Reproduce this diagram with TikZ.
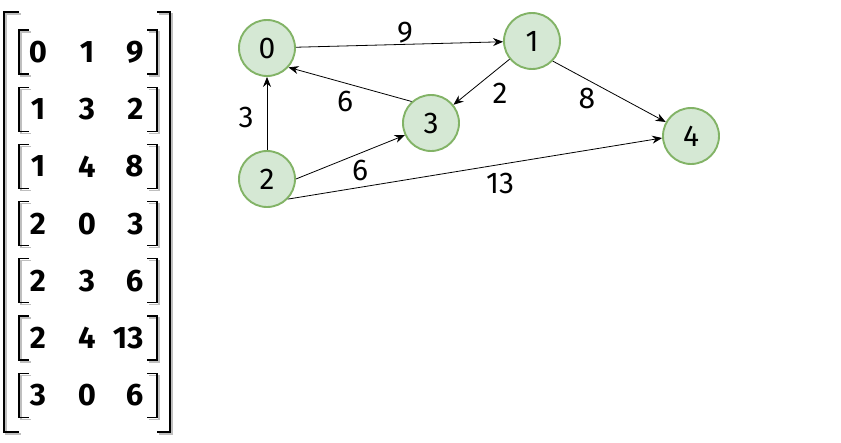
\documentclass[tikz,border=0pt]{standalone}
\usepackage{fontspec}
\setmainfont{Fira Sans}
\usetikzlibrary{arrows.meta,positioning}
\definecolor{vfill}{HTML}{D5E8D4}
\definecolor{vline}{HTML}{82B366}

\begin{document}
\begin{tikzpicture}[x=1pt, y=-1pt, every node/.style={font=\fontsize{30}{32}\selectfont},
  vertex/.style={draw=vline, fill=vfill, circle, line width=1.9pt, minimum size=56pt, inner sep=0pt},
  edge/.style={-{Stealth[length=10pt,width=8pt]}, line width=0.8pt},
  cell/.style={font=\fontsize{31}{32}\selectfont\bfseries},
  brk/.style={line width=1.3pt},
  brkshade/.style={line width=1.3pt, black!25}]
  \useasboundingbox (0,0) rectangle (841,442);

  % edge matrix, one row per edge
  \draw[brkshade] (21,14) -- (6,14) -- (6,434) -- (21,434);
  \draw[brkshade] (159,14) -- (172,14) -- (172,434) -- (159,434);
  \draw[brk] (19,12) -- (4,12) -- (4,432) -- (19,432);
  \draw[brk] (157,12) -- (170,12) -- (170,432) -- (157,432);
  \foreach \a/\b/\c [count=\i] in {0/1/9, 1/3/2, 1/4/8, 2/0/3, 2/3/6, 2/4/13, 3/0/6} {
    \pgfmathsetmacro{\ry}{52+57.2*(\i-1)}
    \draw[brkshade] (31,\ry-20) -- (21,\ry-20) -- (21,\ry+24) -- (31,\ry+24);
    \draw[brkshade] (149,\ry-20) -- (159,\ry-20) -- (159,\ry+24) -- (149,\ry+24);
    \draw[brk] (29,\ry-22) -- (19,\ry-22) -- (19,\ry+22) -- (29,\ry+22);
    \draw[brk] (147,\ry-22) -- (157,\ry-22) -- (157,\ry+22) -- (147,\ry+22);
    \node[cell] (u\i) at (38,\ry) {\a};
    \node[cell] (v\i) at (87,\ry) {\b};
    \node[cell, anchor=east] (w\i) at (147,\ry) {\c};
  }

  % graph
  \node[vertex] (n0) at (267,48) {0};
  \node[vertex] (n1) at (532,41) {1};
  \node[vertex] (n3) at (431,123) {3};
  \node[vertex] (n2) at (267,179) {2};
  \node[vertex] (n4) at (691,136) {4};

  \draw[edge] (n0) -- (n1);
  \draw[edge] (n1) -- (n3);
  \draw[edge] (n3.132) -- (n0.-42);
  \draw[edge] (n2) -- (n0);
  \draw[edge] (n2.0) -- (n3.205);
  \draw[edge] (n2.-44) -- (n4.184);
  \draw[edge] (n1.-44) -- (n4.151);

  \node (l01) at (405,33) {9};
  \node (l13) at (500,93) {2};
  \node (l30) at (345,101) {6};
  \node (l20) at (246,117) {3};
  \node (l23) at (360,170) {6};
  \node (l24) at (500,183) {13};
  \node (l14) at (587,98) {8};
\end{tikzpicture}
\end{document}
